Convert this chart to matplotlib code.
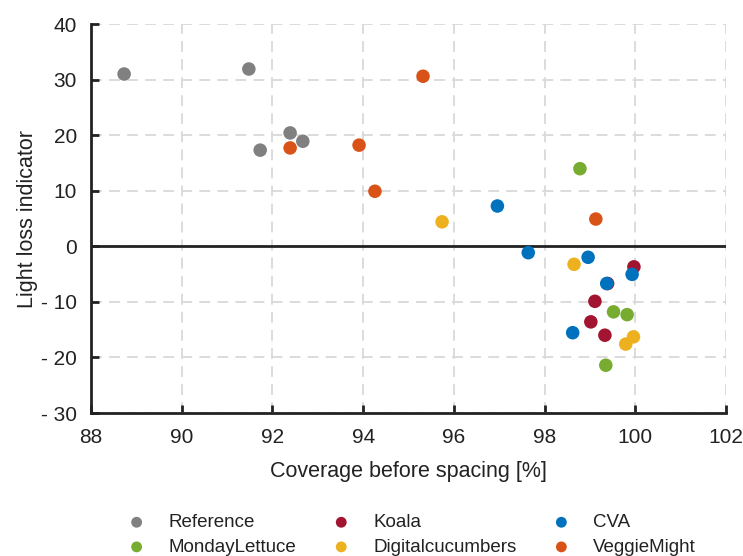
import matplotlib
matplotlib.use("Agg")
import matplotlib.pyplot as plt

plt.rcParams['font.family'] = ['Liberation Sans', 'DejaVu Sans']

series_names = ["Reference", "Koala", "CVA", "MondayLettuce", "Digitalcucumbers", "VeggieMight"]
series_colors = ["#808080", "#A2142F", "#0072BD", "#77AC30", "#EDB120", "#D95319"]

ref_x = [88.73, 91.48, 91.73, 92.39, 92.67]
ref_y = [31.0, 31.9, 17.3, 20.4, 18.9]
koala_x = [99.97, 99.39, 99.11, 99.02, 99.33]
koala_y = [-3.7, -6.7, -9.9, -13.6, -16.0]
cva_x = [96.96, 97.64, 98.96, 99.37, 99.93, 98.62]
cva_y = [7.25, -1.15, -1.98, -6.7, -5.05, -15.55]
monday_x = [98.78, 99.52, 99.82, 99.35]
monday_y = [13.96, -11.8, -12.3, -21.4]
digi_x = [95.74, 98.65, 99.96, 99.79]
digi_y = [4.4, -3.24, -16.3, -17.6]
veggie_x = [92.39, 93.91, 94.26, 95.32, 99.13]
veggie_y = [17.7, 18.2, 9.9, 30.6, 4.9]

xticks = [88, 90, 92, 94, 96, 98, 100, 102]
yticks = [-30, -20, -10, 0, 10, 20, 30, 40]
ytick_labels = ["- 30", "- 20", "- 10", "0", "10", "20", "30", "40"]

fig = plt.figure(figsize=(7.43, 5.56), dpi=100)
ax = fig.add_axes([91/743, 1-413/556, (726-91)/743, (413-24)/556])

data = {
    "Reference": (ref_x, ref_y),
    "Koala": (koala_x, koala_y),
    "CVA": (cva_x, cva_y),
    "MondayLettuce": (monday_x, monday_y),
    "Digitalcucumbers": (digi_x, digi_y),
    "VeggieMight": (veggie_x, veggie_y),
}
handles = {}
draw_order = ["Reference", "VeggieMight", "Digitalcucumbers", "MondayLettuce", "Koala", "CVA"]
for name in draw_order:
    c = series_colors[series_names.index(name)]
    xs, ys = data[name]
    handles[name] = ax.scatter(xs, ys, s=95, color=c, edgecolors='none', zorder=3, label=name)

ax.axhline(0, color='#222222', lw=2, zorder=2)
ax.set_xlim(88, 102)
ax.set_ylim(-30, 40)
ax.set_xticks(xticks)
ax.set_yticks(yticks)
ax.set_yticklabels(ytick_labels)
ax.grid(True, color='#d9d9d9', ls=(0, (6, 4)), lw=1.3)
ax.set_axisbelow(True)
for s in ['top', 'right']:
    ax.spines[s].set_visible(False)
for s in ['left', 'bottom']:
    ax.spines[s].set_linewidth(2)
    ax.spines[s].set_color('#222222')
ax.tick_params(direction='in', length=6, width=2, color='#222222', labelsize=15, labelcolor='#222222')
ax.tick_params(axis='x', pad=11)
ax.tick_params(axis='y', pad=10)
ax.set_xlabel("Coverage before spacing [%]", fontsize=15.5, color='#222222', labelpad=10)
ax.set_ylabel("Light loss indicator", fontsize=15.5, color='#222222', labelpad=2)

order = ["Reference", "MondayLettuce", "Koala", "Digitalcucumbers", "CVA", "VeggieMight"]
leg = fig.legend([handles[n] for n in order], order, ncol=3, loc='lower center',
                 bbox_to_anchor=(0.554, -0.03), frameon=False, fontsize=13.5,
                 markerscale=0.8, handlelength=1.0, handletextpad=1.2,
                 columnspacing=1.9, labelspacing=0.4)
for t in leg.get_texts():
    t.set_color('#222222')

fig.savefig("out.png", dpi=100)
